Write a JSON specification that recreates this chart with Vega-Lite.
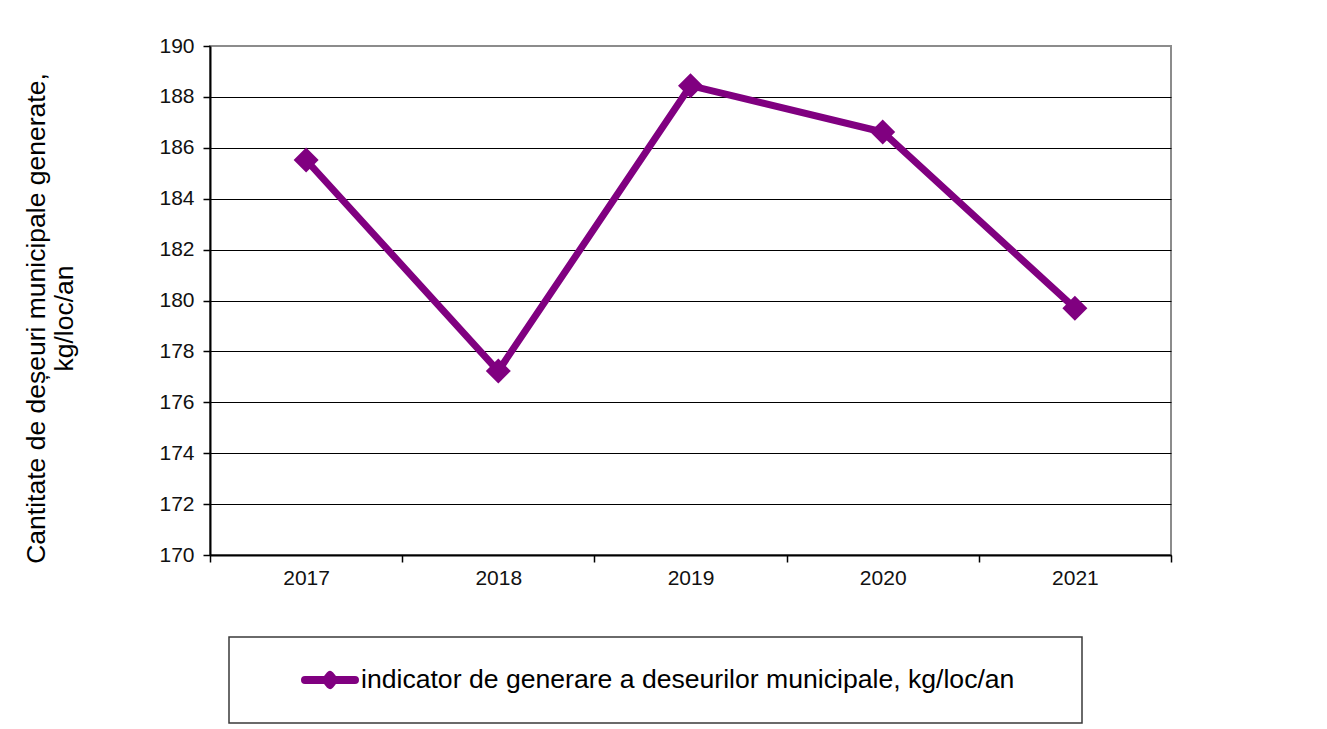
{
  "$schema": "https://vega.github.io/schema/vega-lite/v6.json",
  "width": 961,
  "height": 509,
  "autosize": {"type": "none"},
  "padding": {"left": 210, "top": 46, "right": 156, "bottom": 174},
  "background": "white",
  "config": {
    "font": "Liberation Sans",
    "view": {"stroke": "#8c8c8c", "strokeWidth": 2}
  },
  "data": {
    "values": [
      {"an": "2017", "valoare": 185.52, "serie": "indicator de generare a deseurilor municipale, kg/loc/an"},
      {"an": "2018", "valoare": 177.23, "serie": "indicator de generare a deseurilor municipale, kg/loc/an"},
      {"an": "2019", "valoare": 188.44, "serie": "indicator de generare a deseurilor municipale, kg/loc/an"},
      {"an": "2020", "valoare": 186.62, "serie": "indicator de generare a deseurilor municipale, kg/loc/an"},
      {"an": "2021", "valoare": 179.7, "serie": "indicator de generare a deseurilor municipale, kg/loc/an"}
    ]
  },
  "encoding": {
    "x": {
      "field": "an",
      "type": "ordinal",
      "scale": {"type": "band", "paddingInner": 0, "paddingOuter": 0},
      "axis": {
        "title": null,
        "labelAngle": 0,
        "tickBand": "extent",
        "domainColor": "black",
        "domainWidth": 2,
        "tickColor": "black",
        "tickSize": 7,
        "tickWidth": 1.5,
        "labelFontSize": 21,
        "labelColor": "#111111",
        "labelPadding": 5,
        "grid": false
      }
    },
    "y": {
      "field": "valoare",
      "type": "quantitative",
      "scale": {"domain": [170, 190], "nice": false, "zero": false},
      "axis": {
        "values": [170, 172, 174, 176, 178, 180, 182, 184, 186, 188, 190],
        "grid": true,
        "gridColor": "black",
        "gridWidth": 1,
        "gridOpacity": {"condition": {"test": "datum.value === 190", "value": 0}, "value": 1},
        "domainColor": "black",
        "domainWidth": 2,
        "tickColor": "black",
        "tickSize": 7,
        "tickWidth": 1.5,
        "labelFontSize": 21,
        "labelColor": "#111111",
        "labelPadding": 9,
        "title": ["Cantitate de deșeuri municipale generate,", "kg/loc/an"],
        "titleFontSize": 26.5,
        "titleFontWeight": "normal",
        "titleColor": "black",
        "titleAngle": -90,
        "titleAlign": "center",
        "titleBaseline": "alphabetic",
        "titleLineHeight": 28,
        "titleX": -166,
        "titleY": 272
      }
    }
  },
  "layer": [
    {
      "mark": {"type": "line", "strokeWidth": 7, "color": "#800080"},
      "encoding": {
        "color": {
          "field": "serie",
          "type": "nominal",
          "scale": {"range": ["#800080"]},
          "legend": {
            "orient": "none",
            "legendX": 19,
            "legendY": 591,
            "title": null,
            "padding": 29,
            "strokeColor": "#3a3a3a",
            "fillColor": "white",
            "labelFontSize": 26.6,
            "labelColor": "black",
            "labelLimit": 1000,
            "symbolType": "M-2.5,0L2.5,0M0,-0.5L0.4,0L0,0.5L-0.4,0ZM71.9,0",
            "symbolSize": 400,
            "symbolStrokeWidth": 8,
            "symbolFillColor": "#800080",
            "symbolStrokeColor": "#800080",
            "symbolOffset": 58,
            "labelOffset": 17,
            "encode": {
              "symbols": {"update": {"strokeCap": {"value": "round"}, "strokeJoin": {"value": "round"}}},
              "legend": {"update": {"strokeWidth": {"value": 1.5}}}
            }
          }
        }
      }
    },
    {
      "mark": {"type": "point", "shape": "diamond", "filled": true, "size": 625, "opacity": 1, "color": "#800080"}
    }
  ]
}
